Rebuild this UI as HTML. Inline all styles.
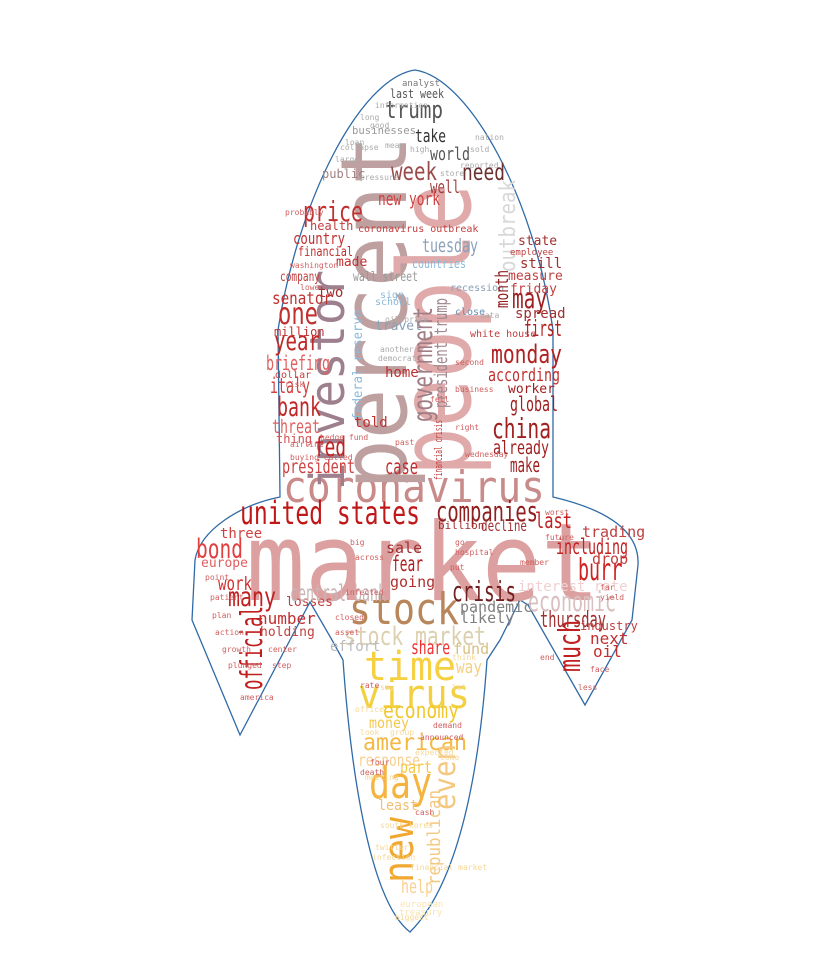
<!DOCTYPE html>
<html><head><meta charset="utf-8"><style>
html,body{margin:0;padding:0;background:#fff;}
svg{display:block;}
text{font-family:"DejaVu Sans Mono","Liberation Mono",monospace;}
</style></head><body>
<svg width="834" height="970" viewBox="0 0 834 970">
<path fill="#fff" stroke="#2f6aa6" stroke-width="1.3"
d="M415,70 C470,78 535,200 553,330 L553,497 C600,508 640,528 638,565 L632,620 L585,705 L528,605 L520,600 L500,640 L487,660 C480,760 462,880 410,932 C368,900 350,760 343,660 L332,640 L310,602 L240,735 L192,620 L195,560 C200,530 240,505 280,497 L278,330 C298,200 360,78 415,70 Z"/>
<g>
<text x="246" y="600" font-size="108" fill="#dca0a0" textLength="354" lengthAdjust="spacingAndGlyphs">market</text>
<text x="283" y="502" font-size="44" fill="#c98a8a" textLength="262" lengthAdjust="spacingAndGlyphs">coronavirus</text>
<text transform="translate(406,490) rotate(-90)" font-size="92" fill="#bfa0a0" textLength="355" lengthAdjust="spacingAndGlyphs">percent</text>
<text transform="translate(470,476) rotate(-90)" font-size="100" fill="#e0aaaa" textLength="292" lengthAdjust="spacingAndGlyphs">people</text>
<text transform="translate(344,490) rotate(-90)" font-size="48" fill="#9e7f8e" textLength="220" lengthAdjust="spacingAndGlyphs">investor</text>
<text transform="translate(432,422) rotate(-90)" font-size="27" fill="#a07e86" textLength="115" lengthAdjust="spacingAndGlyphs">government</text>
<text transform="translate(447,408) rotate(-90)" font-size="18" fill="#a08890" textLength="110" lengthAdjust="spacingAndGlyphs">president trump</text>
<text transform="translate(515,272) rotate(-90)" font-size="22" fill="#d8d8d8" textLength="92" lengthAdjust="spacingAndGlyphs">outbreak</text>
<text transform="translate(362,420) rotate(-90)" font-size="13" fill="#8ab8d8" textLength="110" lengthAdjust="spacingAndGlyphs">federal reserve</text>
<text transform="translate(442,480) rotate(-90)" font-size="11" fill="#c04040" textLength="60" lengthAdjust="spacingAndGlyphs">financial crisis</text>
<text x="349" y="624" font-size="44" fill="#b8865a" textLength="110" lengthAdjust="spacingAndGlyphs">stock</text>
<text x="344" y="645" font-size="26" fill="#ddd0b0" textLength="142" lengthAdjust="spacingAndGlyphs">stock market</text>
<text x="364" y="680" font-size="40" fill="#f5d040" textLength="92" lengthAdjust="spacingAndGlyphs">time</text>
<text x="358" y="708" font-size="40" fill="#f2d040" textLength="112" lengthAdjust="spacingAndGlyphs">virus</text>
<text x="383" y="718" font-size="22" fill="#f0c830" textLength="76" lengthAdjust="spacingAndGlyphs">economy</text>
<text x="369" y="728" font-size="15" fill="#f4c850" textLength="40" lengthAdjust="spacingAndGlyphs">money</text>
<text x="363" y="750" font-size="23" fill="#f5b840" textLength="104" lengthAdjust="spacingAndGlyphs">american</text>
<text x="358" y="766" font-size="17" fill="#f8d090" textLength="62" lengthAdjust="spacingAndGlyphs">response</text>
<text x="400" y="773" font-size="17" fill="#f5c840" textLength="32" lengthAdjust="spacingAndGlyphs">part</text>
<text x="369" y="798" font-size="44" fill="#f5b440" textLength="63" lengthAdjust="spacingAndGlyphs">day</text>
<text transform="translate(413,883) rotate(-90)" font-size="42" fill="#f0a830" textLength="66" lengthAdjust="spacingAndGlyphs">new</text>
<text transform="translate(455,810) rotate(-90)" font-size="30" fill="#f5c880" textLength="66" lengthAdjust="spacingAndGlyphs">even</text>
<text transform="translate(440,885) rotate(-90)" font-size="18" fill="#f5c880" textLength="95" lengthAdjust="spacingAndGlyphs">republican</text>
<text x="378" y="810" font-size="14" fill="#f0c070" textLength="40" lengthAdjust="spacingAndGlyphs">least</text>
<text x="401" y="893" font-size="19" fill="#f8d090" textLength="32" lengthAdjust="spacingAndGlyphs">help</text>
<text x="456" y="673" font-size="18" fill="#f5d080" textLength="26" lengthAdjust="spacingAndGlyphs">way</text>
<text x="400" y="907" font-size="9" fill="#fbe4b0">european</text>
<text x="399" y="915" font-size="9" fill="#fbe4b0">treasury</text>
<text x="402" y="86" font-size="9" fill="#777">analyst</text>
<text x="390" y="98" font-size="12" fill="#555" textLength="54" lengthAdjust="spacingAndGlyphs">last week</text>
<text x="385" y="118" font-size="24" fill="#555" textLength="58" lengthAdjust="spacingAndGlyphs">trump</text>
<text x="352" y="134" font-size="11" fill="#999" textLength="64" lengthAdjust="spacingAndGlyphs">businesses</text>
<text x="415" y="142" font-size="18" fill="#333" textLength="31" lengthAdjust="spacingAndGlyphs">take</text>
<text x="430" y="160" font-size="18" fill="#555" textLength="40" lengthAdjust="spacingAndGlyphs">world</text>
<text x="391" y="180" font-size="25" fill="#9b4a4a" textLength="46" lengthAdjust="spacingAndGlyphs">week</text>
<text x="462" y="180" font-size="23" fill="#6b3030" textLength="43" lengthAdjust="spacingAndGlyphs">need</text>
<text x="430" y="193" font-size="18" fill="#a04040" textLength="30" lengthAdjust="spacingAndGlyphs">well</text>
<text x="322" y="178" font-size="12" fill="#a08080">public</text>
<text x="378" y="205" font-size="18" fill="#d04040" textLength="62" lengthAdjust="spacingAndGlyphs">new york</text>
<text x="303" y="221" font-size="28" fill="#c03030" textLength="60" lengthAdjust="spacingAndGlyphs">price</text>
<text x="310" y="230" font-size="12" fill="#c04040">health</text>
<text x="293" y="244" font-size="16" fill="#c03030" textLength="52" lengthAdjust="spacingAndGlyphs">country</text>
<text x="298" y="256" font-size="13" fill="#c03030" textLength="55" lengthAdjust="spacingAndGlyphs">financial</text>
<text x="358" y="232" font-size="10" fill="#c04040">coronavirus outbreak</text>
<text x="422" y="252" font-size="19" fill="#8aa0b8" textLength="56" lengthAdjust="spacingAndGlyphs">tuesday</text>
<text x="412" y="268" font-size="12" fill="#8ab8d8" textLength="54" lengthAdjust="spacingAndGlyphs">countries</text>
<text x="518" y="245" font-size="13" fill="#a03030">state</text>
<text x="510" y="255" font-size="9" fill="#c04040">employee</text>
<text x="520" y="268" font-size="14" fill="#a03030">still</text>
<text x="508" y="280" font-size="13" fill="#c04040">measure</text>
<text x="510" y="293" font-size="13" fill="#c04040">friday</text>
<text x="280" y="281" font-size="13" fill="#c04040" textLength="40" lengthAdjust="spacingAndGlyphs">company</text>
<text x="336" y="266" font-size="13" fill="#c03030">made</text>
<text x="318" y="297" font-size="14" fill="#a03030">two</text>
<text x="272" y="304" font-size="17" fill="#c03030" textLength="60" lengthAdjust="spacingAndGlyphs">senator</text>
<text x="278" y="324" font-size="30" fill="#c03030" textLength="40" lengthAdjust="spacingAndGlyphs">one</text>
<text x="274" y="336" font-size="12" fill="#c03030">million</text>
<text x="274" y="350" font-size="27" fill="#c02828" textLength="46" lengthAdjust="spacingAndGlyphs">year</text>
<text x="353" y="281" font-size="13" fill="#999" textLength="65" lengthAdjust="spacingAndGlyphs">wall street</text>
<text x="375" y="330" font-size="13" fill="#8aa0b8">travel</text>
<text x="380" y="298" font-size="10" fill="#8ab8d8">sign</text>
<text x="375" y="305" font-size="10" fill="#8ab8d8">school</text>
<text x="450" y="291" font-size="10" fill="#8aa0b8">recession</text>
<text x="455" y="315" font-size="10" fill="#6a90b8">close</text>
<text x="512" y="308" font-size="28" fill="#a02020" textLength="35" lengthAdjust="spacingAndGlyphs">may</text>
<text transform="translate(508,308) rotate(-90)" font-size="18" fill="#902020" textLength="38" lengthAdjust="spacingAndGlyphs">month</text>
<text x="515" y="318" font-size="14" fill="#a03030">spread</text>
<text x="524" y="336" font-size="22" fill="#b02020" textLength="38" lengthAdjust="spacingAndGlyphs">first</text>
<text x="470" y="337" font-size="10" fill="#c04040">white house</text>
<text x="491" y="363" font-size="26" fill="#b02020" textLength="71" lengthAdjust="spacingAndGlyphs">monday</text>
<text x="488" y="381" font-size="18" fill="#c03030" textLength="72" lengthAdjust="spacingAndGlyphs">according</text>
<text x="508" y="393" font-size="13" fill="#a02020">worker</text>
<text x="510" y="411" font-size="20" fill="#a02020" textLength="48" lengthAdjust="spacingAndGlyphs">global</text>
<text x="492" y="438" font-size="28" fill="#a02020" textLength="59" lengthAdjust="spacingAndGlyphs">china</text>
<text x="493" y="454" font-size="19" fill="#a02020" textLength="56" lengthAdjust="spacingAndGlyphs">already</text>
<text x="510" y="472" font-size="20" fill="#a02020" textLength="30" lengthAdjust="spacingAndGlyphs">make</text>
<text x="266" y="370" font-size="20" fill="#e06060" textLength="64" lengthAdjust="spacingAndGlyphs">briefing</text>
<text x="275" y="378" font-size="10" fill="#c04040">dollar</text>
<text x="270" y="393" font-size="21" fill="#d04040" textLength="40" lengthAdjust="spacingAndGlyphs">italy</text>
<text x="277" y="416" font-size="27" fill="#c02828" textLength="44" lengthAdjust="spacingAndGlyphs">bank</text>
<text x="272" y="433" font-size="19" fill="#e06060" textLength="48" lengthAdjust="spacingAndGlyphs">threat</text>
<text x="276" y="443" font-size="12" fill="#d05050">thing</text>
<text x="314" y="456" font-size="27" fill="#c02020" textLength="32" lengthAdjust="spacingAndGlyphs">fed</text>
<text x="282" y="473" font-size="19" fill="#d04040" textLength="73" lengthAdjust="spacingAndGlyphs">president</text>
<text x="385" y="474" font-size="21" fill="#c03030" textLength="33" lengthAdjust="spacingAndGlyphs">case</text>
<text x="354" y="427" font-size="14" fill="#c03030">told</text>
<text x="385" y="377" font-size="14" fill="#c03030">home</text>
<text x="240" y="524" font-size="32" fill="#c01818" textLength="180" lengthAdjust="spacingAndGlyphs">united states</text>
<text x="436" y="521" font-size="28" fill="#902020" textLength="102" lengthAdjust="spacingAndGlyphs">companies</text>
<text x="438" y="529" font-size="11" fill="#a03030">billion</text>
<text x="481" y="531" font-size="15" fill="#a03030" textLength="46" lengthAdjust="spacingAndGlyphs">decline</text>
<text x="535" y="528" font-size="21" fill="#c02020" textLength="37" lengthAdjust="spacingAndGlyphs">last</text>
<text x="582" y="537" font-size="15" fill="#c04040">trading</text>
<text x="556" y="554" font-size="21" fill="#c02020" textLength="72" lengthAdjust="spacingAndGlyphs">including</text>
<text x="592" y="564" font-size="15" fill="#c04040">drop</text>
<text x="578" y="580" font-size="30" fill="#d02020" textLength="44" lengthAdjust="spacingAndGlyphs">burr</text>
<text x="196" y="558" font-size="27" fill="#e04040" textLength="47" lengthAdjust="spacingAndGlyphs">bond</text>
<text x="220" y="538" font-size="14" fill="#d04040">three</text>
<text x="201" y="567" font-size="13" fill="#e06060">europe</text>
<text x="218" y="590" font-size="19" fill="#d03030" textLength="34" lengthAdjust="spacingAndGlyphs">work</text>
<text x="228" y="606" font-size="27" fill="#c02020" textLength="48" lengthAdjust="spacingAndGlyphs">many</text>
<text transform="translate(262,690) rotate(-90)" font-size="30" fill="#c02020" textLength="84" lengthAdjust="spacingAndGlyphs">official</text>
<text x="258" y="624" font-size="16" fill="#c03030">number</text>
<text x="260" y="636" font-size="13" fill="#c04040">holding</text>
<text x="286" y="606" font-size="13" fill="#c04040">losses</text>
<text x="290" y="601" font-size="23" fill="#c8b4b4" textLength="96" lengthAdjust="spacingAndGlyphs">central bank</text>
<text x="392" y="571" font-size="21" fill="#b02020" textLength="31" lengthAdjust="spacingAndGlyphs">fear</text>
<text x="386" y="553" font-size="15" fill="#a03030">sale</text>
<text x="390" y="587" font-size="15" fill="#b03030">going</text>
<text x="452" y="601" font-size="28" fill="#702020" textLength="64" lengthAdjust="spacingAndGlyphs">crisis</text>
<text x="518" y="591" font-size="14" fill="#f0d0d0">interest rate</text>
<text x="460" y="612" font-size="15" fill="#808080">pandemic</text>
<text x="460" y="623" font-size="15" fill="#808080">likely</text>
<text x="528" y="611" font-size="28" fill="#d8c0c0" textLength="88" lengthAdjust="spacingAndGlyphs">economic</text>
<text x="540" y="627" font-size="22" fill="#a03030" textLength="66" lengthAdjust="spacingAndGlyphs">thursday</text>
<text transform="translate(580,672) rotate(-90)" font-size="30" fill="#c02020" textLength="52" lengthAdjust="spacingAndGlyphs">much</text>
<text x="580" y="630" font-size="12" fill="#c04040">industry</text>
<text x="590" y="644" font-size="16" fill="#c03030">next</text>
<text x="593" y="657" font-size="16" fill="#c03030">oil</text>
<text x="411" y="654" font-size="19" fill="#f03030" textLength="39" lengthAdjust="spacingAndGlyphs">share</text>
<text x="453" y="654" font-size="15" fill="#d8c080">fund</text>
<text x="330" y="651" font-size="14" fill="#bbb">effort</text>
<text font-size="8" fill="#d06060">
<tspan x="285" y="215">probably</tspan><tspan x="290" y="268">washington</tspan><tspan x="300" y="290">lower</tspan><tspan x="285" y="387">risk</tspan><tspan x="290" y="447">airline</tspan><tspan x="290" y="460">buying called</tspan><tspan x="205" y="580">point</tspan><tspan x="210" y="600">patient</tspan><tspan x="212" y="618">plan</tspan><tspan x="215" y="635">action</tspan><tspan x="222" y="652">growth</tspan><tspan x="228" y="668">plunged</tspan><tspan x="240" y="700">america</tspan><tspan x="268" y="652">center</tspan><tspan x="272" y="668">step</tspan><tspan x="545" y="515">worst</tspan><tspan x="545" y="540">future</tspan><tspan x="600" y="590">far</tspan><tspan x="600" y="600">yield</tspan><tspan x="590" y="672">face</tspan><tspan x="578" y="690">less</tspan><tspan x="520" y="565">member</tspan><tspan x="540" y="660">end</tspan><tspan x="455" y="555">hospital</tspan><tspan x="450" y="570">put</tspan><tspan x="455" y="545">go</tspan><tspan x="430" y="402">fell</tspan><tspan x="455" y="430">right</tspan><tspan x="465" y="457">wednesday</tspan><tspan x="455" y="365">second</tspan><tspan x="455" y="392">business</tspan><tspan x="395" y="445">past</tspan><tspan x="320" y="440">hedge fund</tspan><tspan x="350" y="545">big</tspan><tspan x="355" y="560">across</tspan><tspan x="345" y="595">infected</tspan><tspan x="335" y="620">closed</tspan><tspan x="335" y="635">asset</tspan><tspan x="420" y="740">announced</tspan><tspan x="433" y="728">demand</tspan><tspan x="360" y="688">rate</tspan><tspan x="370" y="765">four</tspan><tspan x="360" y="775">death</tspan><tspan x="415" y="815">cash</tspan>
</text>
<text font-size="8" fill="#aaa">
<tspan x="375" y="108">information</tspan><tspan x="360" y="120">long</tspan><tspan x="370" y="128">good</tspan><tspan x="345" y="145">loan</tspan><tspan x="340" y="150">collapse</tspan><tspan x="335" y="162">large</tspan><tspan x="385" y="148">mean</tspan><tspan x="410" y="152">high</tspan><tspan x="475" y="140">nation</tspan><tspan x="470" y="152">sold</tspan><tspan x="460" y="168">reported</tspan><tspan x="440" y="176">store</tspan><tspan x="360" y="180">pressure</tspan><tspan x="380" y="352">another</tspan><tspan x="378" y="361">democrat</tspan><tspan x="385" y="322">oil price</tspan><tspan x="480" y="318">data</tspan>
</text>
<text font-size="8" fill="#f5d898">
<tspan x="452" y="660">think</tspan><tspan x="380" y="690">say</tspan><tspan x="452" y="690">lot</tspan><tspan x="355" y="712">office</tspan><tspan x="360" y="735">look</tspan><tspan x="390" y="735">group</tspan><tspan x="415" y="755">expected</tspan><tspan x="440" y="760">come</tspan><tspan x="365" y="780">meeting</tspan><tspan x="380" y="828">south korea</tspan><tspan x="375" y="850">twitter</tspan><tspan x="395" y="920">biggest</tspan><tspan x="372" y="860">infection</tspan><tspan x="410" y="870">financial market</tspan>
</text>
</g>
</svg>
</body></html>
